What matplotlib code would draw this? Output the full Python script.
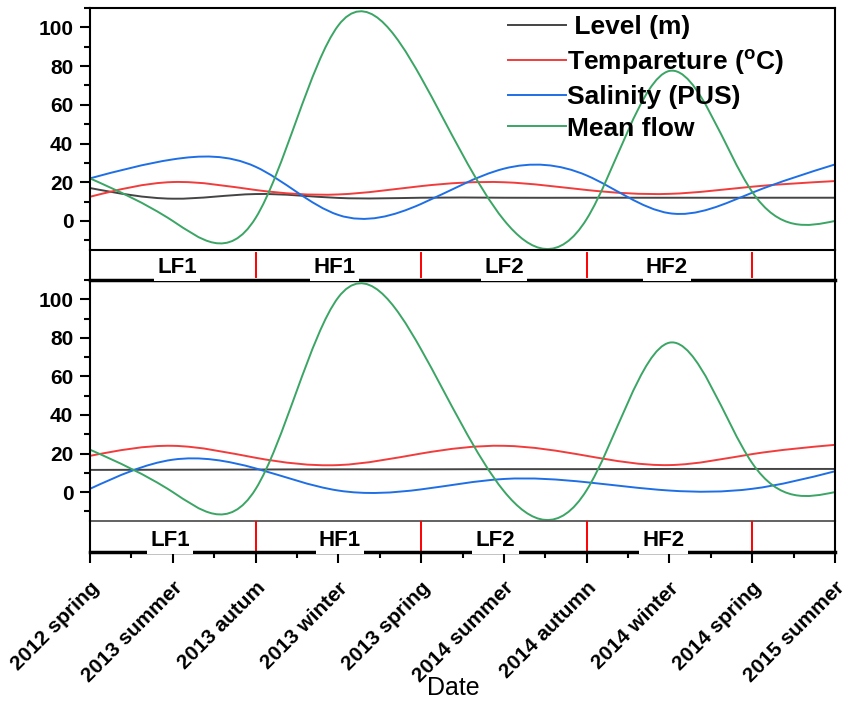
import numpy as np
import matplotlib
matplotlib.use('Agg')
import matplotlib.pyplot as plt
from matplotlib.path import Path
from matplotlib.patches import PathPatch
from matplotlib.lines import Line2D
from matplotlib.ticker import MultipleLocator

plt.rcParams['font.family'] = ['Liberation Sans', 'DejaVu Sans']
plt.rcParams['mathtext.fontset'] = 'custom'
plt.rcParams['mathtext.rm'] = 'Liberation Sans'
plt.rcParams['mathtext.bf'] = 'Liberation Sans:bold'

# ---------------- data ----------------
categories = ['2012 spring', '2013 summer', '2013 autum', '2013 winter', '2013 spring',
              '2014 summer', '2014 autumn', '2014 winter', '2014 spring', '2015 summer']

level_top = [17, 11.5, 13.9, 11.9, 12, 12, 12, 12, 12, 12]
temp_top = [12.5, 20.1, 16, 13.7, 18, 20, 16, 14, 17.7, 20.6]
sal_top = [22, 31.8, 28, 3.1, 8.8, 27, 23.5, 4, 14.6, 29.2]
flow_top = [22, 0, 1.5, 101, 74, 0.5, 1, 77.5, 15, 0]

level_bot = [11.5, 11.6, 11.7, 11.8, 11.8, 11.9, 11.9, 12, 12, 12]
temp_bot = [18.8, 24, 17.8, 14, 20, 24, 18.8, 14, 19.7, 24.5]
sal_bot = [1.7, 16.8, 12.3, 0.8, 1.4, 6.8, 5.1, 0.8, 1.7, 10.8]
flow_bot = [22, 0, 1.5, 101, 74, 0.5, 1, 77.5, 15, 0]

series_names = [' Level (m)', r'Tempareture ($^{\mathbf{o}}$C)', 'Salinity (PUS)', 'Mean flow']
series_colors = ['#444444', '#f23c3c', '#1e6fe6', '#3aa564']

phase_labels = ['LF1', 'HF1', 'LF2', 'HF2']
phase_pos_top = [1.05, 2.95, 5.0, 6.97]
phase_pos_bot = [0.97, 3.02, 4.9, 6.93]
phase_bounds = [2, 4, 6, 8]


def spline_path(x, y):
    x = np.asarray(x, float)
    y = np.asarray(y, float)
    n = len(x)
    h = np.diff(x)
    A = np.zeros((n, n))
    b = np.zeros(n)
    A[0, 0] = 1
    A[-1, -1] = 1
    for i in range(1, n - 1):
        A[i, i - 1] = h[i - 1]
        A[i, i] = 2 * (h[i - 1] + h[i])
        A[i, i + 1] = h[i]
        b[i] = 6 * ((y[i + 1] - y[i]) / h[i] - (y[i] - y[i - 1]) / h[i - 1])
    M = np.linalg.solve(A, b)
    d = np.empty(n)
    d[:-1] = (y[1:] - y[:-1]) / h - h * (2 * M[:-1] + M[1:]) / 6
    d[-1] = (y[-1] - y[-2]) / h[-1] + h[-1] * (M[-2] + 2 * M[-1]) / 6
    verts = [(x[0], y[0])]
    codes = [Path.MOVETO]
    for i in range(n - 1):
        verts += [(x[i] + h[i] / 3, y[i] + d[i] * h[i] / 3),
                  (x[i + 1] - h[i] / 3, y[i + 1] - d[i + 1] * h[i] / 3),
                  (x[i + 1], y[i + 1])]
        codes += [Path.CURVE4] * 3
    return Path(verts, codes)


W_PX, H_PX = 851, 705
fig = plt.figure(figsize=(W_PX / 100, H_PX / 100), dpi=100)
L = 90 / W_PX
W = 745 / W_PX


def rect(top, bot):
    return [L, 1 - bot / H_PX, W, (bot - top) / H_PX]


ax1 = fig.add_axes(rect(8, 250))
s1 = fig.add_axes(rect(250, 280))
ax2 = fig.add_axes(rect(280, 521))
s2 = fig.add_axes(rect(521, 552))

x = np.arange(len(categories))
LW = 1.4

for ax, data in [(ax1, [level_top, temp_top, sal_top, flow_top]),
                 (ax2, [level_bot, temp_bot, sal_bot, flow_bot])]:
    ax.set_facecolor('none')
    for vals, col in zip(data, series_colors):
        ax.add_patch(PathPatch(spline_path(x, vals), facecolor='none',
                               edgecolor=col, lw=LW, zorder=2))
    ax.set_xlim(0, 9)
    ax.set_ylim(-15, 110)
    ax.set_yticks([0, 20, 40, 60, 80, 100])
    ax.yaxis.set_minor_locator(MultipleLocator(10))
    ax.tick_params(axis='y', which='major', direction='out', length=7, width=1.5,
                   labelsize=15, pad=5)
    ax.tick_params(axis='y', which='minor', direction='out', length=4, width=1.5)
    for lab in ax.get_yticklabels():
        lab.set_fontweight('bold')
    ax.set_xticks([])
    for sp in ax.spines.values():
        sp.set_linewidth(1.5)

ax2.spines['top'].set_visible(False)
ax2.spines['bottom'].set_color('#555555')
ax2.spines['bottom'].set_linewidth(1.3)

for s, pos, ybar, yl in [(s1, phase_pos_top, (0.1, 0.9), 0.42), (s2, phase_pos_bot, (0.0, 1.0), 0.37)]:
    s.set_facecolor('none')
    s.set_xlim(0, 9)
    s.set_ylim(0, 1)
    s.set_yticks([])
    for b in phase_bounds:
        s.axvline(b, ymin=ybar[0], ymax=ybar[1], color='#ff0000', lw=1.4, zorder=2)
    for p, t in zip(pos, phase_labels):
        s.text(p, yl, t, ha='center', va='center', fontsize=16, fontweight='bold',
               zorder=5, clip_on=False,
               bbox=dict(facecolor='white', edgecolor='none', boxstyle='square,pad=0.15'))
    for sp in s.spines.values():
        sp.set_linewidth(1.5)

s1.spines['top'].set_visible(False)
s1.spines['bottom'].set_linewidth(2.5)
s1.set_xticks([])
s2.spines['top'].set_visible(False)
s2.spines['bottom'].set_linewidth(2.5)

s2.set_xticks(x)
s2.set_xticklabels(categories, rotation=45, ha='right', va='top', rotation_mode='anchor',
                   fontsize=15, fontweight='bold')
s2.xaxis.set_minor_locator(MultipleLocator(0.5))
s2.tick_params(axis='x', which='major', direction='out', length=8, width=1.5, pad=11)
s2.tick_params(axis='x', which='minor', direction='out', length=4, width=1.5)

handles = [Line2D([], [], color=c, lw=LW) for c in series_colors]
ax1.legend(handles, series_names, loc='upper left', bbox_to_anchor=(0.561, 0.97),
           frameon=False, prop={'family': 'Liberation Sans', 'weight': 'bold', 'size': 19},
           handlelength=2.2, handletextpad=0.05, labelspacing=0.3, borderpad=0,
           borderaxespad=0)

fig.text(453 / W_PX, 1 - 688 / H_PX, 'Date', ha='center', va='center', fontsize=18)

fig.savefig('out.png', dpi=100)
